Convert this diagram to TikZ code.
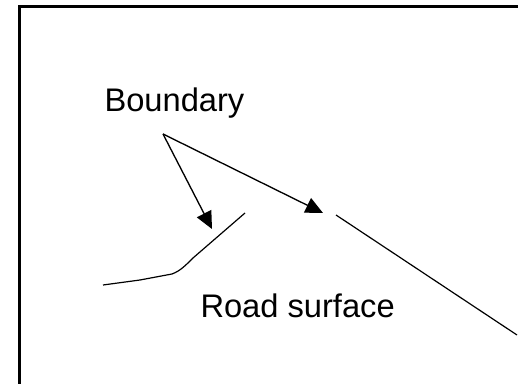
\documentclass[tikz,border=0pt]{standalone}
\usepackage{fontspec}
\setmainfont{Liberation Sans}
\usetikzlibrary{arrows.meta}

\tikzset{every picture/.style={line width=0.75pt}}
\tikzset{
  pointer/.style={line width=1pt, -{Triangle[length=13pt, width=12pt]}},
  edgeline/.style={line width=0.9pt, line join=round},
  label/.style={anchor=base west, inner sep=0pt, font=\fontsize{24.5}{29}\selectfont}
}

\begin{document}
\begin{tikzpicture}[x=0.75pt,y=0.75pt,yscale=-1,xscale=1]
      \useasboundingbox (0,0) rectangle (518,384);

      %Shape: Frame
      \draw [line width=1.6pt] (19.5,400) -- (19.5,6.5) -- (530,6.5);

      % Text Node
      \node [label] (boundary) at (104,112) {Boundary};
      % Text Node
      \node [label] (road) at (200,318) {Road surface};

      \coordinate (split) at (163,134);
      \coordinate (lefttip) at (212,229);
      \coordinate (righttip) at (323,213);

      %Curve: left boundary
      \draw [edgeline] (103,285) -- (140,280) -- (172,274) .. controls (180,271) and (185,266) .. (193,258) -- (245,213);
      %Straight Lines: right boundary
      \draw [edgeline] (336,215) -- (517,335);

      %Arrows
      \draw [pointer] (split) -- (lefttip);
      \draw [pointer] (split) -- (righttip);
\end{tikzpicture}
\end{document}
